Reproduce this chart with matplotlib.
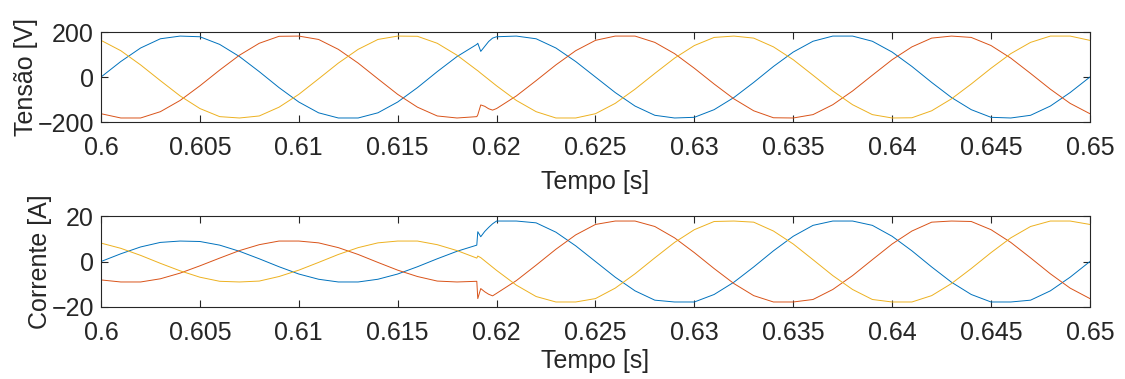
import matplotlib
matplotlib.use("Agg")
import matplotlib.pyplot as plt

# time samples [s] (1 ms grid, extra points around the fault at 0.619 s)
t = [0.600, 0.601, 0.602, 0.603, 0.604, 0.605, 0.606, 0.607, 0.608, 0.609,
     0.610, 0.611, 0.612, 0.613, 0.614, 0.615, 0.616, 0.617, 0.618, 0.619,
     0.61905, 0.6192, 0.6194, 0.6196, 0.6198,
     0.620, 0.621, 0.622, 0.623, 0.624, 0.625, 0.626, 0.627, 0.628, 0.629,
     0.630, 0.631, 0.632, 0.633, 0.634, 0.635, 0.636, 0.637, 0.638, 0.639,
     0.640, 0.641, 0.642, 0.643, 0.644, 0.645, 0.646, 0.647, 0.648, 0.649,
     0.650]

# phase voltages [V]
va = [0, 69, 129, 170, 182, 179, 145, 91, 24, -47,
      -111, -159, -182, -182, -159, -111, -47, 24, 91, 145,
      150, 114, 136, 158, 173,
      179, 182, 170, 129, 69, 0, -69, -129, -170, -182,
      -179, -145, -91, -24, 47, 111, 159, 182, 182, 159,
      111, 47, -24, -91, -145, -179, -182, -170, -129, -69,
      0]
vb = [-163, -182, -182, -154, -104, -39, 31, 97, 150, 181,
      182, 167, 123, 62, -8, -77, -134, -173, -182, -176,
      -168, -124, -130, -141, -147,
      -140, -84, -16, 54, 117, 163, 182, 182, 154, 104,
      39, -31, -97, -150, -181, -182, -167, -123, -62, 8,
      77, 134, 173, 182, 176, 140, 84, 16, -54, -117,
      -163]
vc = [163, 117, 54, -16, -84, -140, -176, -182, -173, -134,
      -77, -8, 62, 123, 167, 182, 181, 150, 97, 31,
      28, 17, 3, -11, -25,
      -39, -104, -154, -182, -182, -163, -117, -54, 16, 84,
      140, 176, 182, 173, 134, 77, 8, -62, -123, -167,
      -182, -181, -150, -97, -31, 39, 104, 154, 182, 182,
      163]

# phase currents [A]
ia = [0, 3.4, 6.4, 8.4, 9.0, 8.8, 7.2, 4.5, 1.2, -2.3,
      -5.5, -7.8, -9.0, -9.0, -7.8, -5.5, -2.3, 1.2, 4.5, 7.2,
      13.1, 10.9, 13.2, 15.0, 16.6,
      17.8, 17.8, 17.0, 12.9, 6.9, 0, -6.9, -12.9, -17.0, -17.8,
      -17.8, -14.5, -9.1, -2.4, 4.7, 11.1, 15.9, 17.8, 17.8, 15.9,
      11.1, 4.7, -2.4, -9.1, -14.5, -17.8, -17.8, -17.0, -12.9, -6.9,
      0]
ib = [-8.1, -9.0, -9.0, -7.6, -5.1, -1.9, 1.5, 4.8, 7.4, 9.0,
      9.0, 8.2, 6.1, 3.1, -0.4, -3.8, -6.6, -8.6, -9.0, -8.7,
      -16.3, -11.9, -13.3, -14.4, -15.1,
      -14.0, -8.4, -1.6, 5.4, 11.7, 16.3, 17.8, 17.8, 15.4, 10.4,
      3.9, -3.1, -9.7, -15.0, -17.8, -17.8, -16.7, -12.3, -6.2, 0.8,
      7.7, 13.4, 17.3, 17.8, 17.6, 14.0, 8.4, 1.6, -5.4, -11.7,
      -16.3]
ic = [8.1, 5.8, 2.7, -0.8, -4.1, -6.9, -8.7, -9.0, -8.6, -6.6,
      -3.8, -0.4, 3.1, 6.1, 8.2, 9.0, 9.0, 7.4, 4.8, 1.5,
      2.4, 1.7, 0.3, -1.1, -2.5,
      -3.9, -10.4, -15.4, -17.8, -17.8, -16.3, -11.7, -5.4, 1.6, 8.4,
      14.0, 17.6, 17.8, 17.3, 13.4, 7.7, 0.8, -6.2, -12.3, -16.7,
      -17.8, -17.8, -15.0, -9.7, -3.1, 3.9, 10.4, 15.4, 17.8, 17.8,
      16.3]

xticks = [0.6, 0.605, 0.61, 0.615, 0.62, 0.625, 0.63, 0.635, 0.64, 0.645, 0.65]
xticklabels = ["0.6", "0.605", "0.61", "0.615", "0.62", "0.625", "0.63",
               "0.635", "0.64", "0.645", "0.65"]

plt.rcParams['font.family'] = ['Liberation Sans', 'DejaVu Sans']
dark = "#262626"
colors = ["#0072BD", "#D95319", "#EDB120"]
fs = 18

fig = plt.figure(figsize=(11.25, 3.79), dpi=100)

panels = [
    ([0.0898, 0.678, 0.879, 0.2375], [va, vb, vc], (-200, 200), [-200, 0, 200], "Tensão [V]", 7),
    ([0.0898, 0.190, 0.879, 0.2400], [ia, ib, ic], (-20, 20), [-20, 0, 20], "Corrente [A]", 3),
]

for rect, series, ylim, yticks, ylabel, xpad in panels:
    ax = fig.add_axes(rect)
    for y, c in zip(series, colors):
        ax.plot(t, y, color=c, lw=0.7)
    ax.set_xlim(0.6, 0.65)
    ax.set_ylim(*ylim)
    ax.set_xticks(xticks)
    ax.set_xticklabels(xticklabels)
    ax.set_yticks(yticks)
    ax.tick_params(direction="in", length=5, width=0.8, colors=dark,
                   labelsize=fs, top=True, right=True)
    ax.tick_params(axis="x", pad=10)
    ax.tick_params(axis="y", pad=5)
    for s in ax.spines.values():
        s.set_color(dark)
        s.set_linewidth(0.8)
    ax.set_xlabel("Tempo [s]", fontsize=fs, color=dark, labelpad=xpad)
    ax.set_ylabel(ylabel, fontsize=fs, color=dark, labelpad=0)

plt.savefig("out.png", dpi=100)
